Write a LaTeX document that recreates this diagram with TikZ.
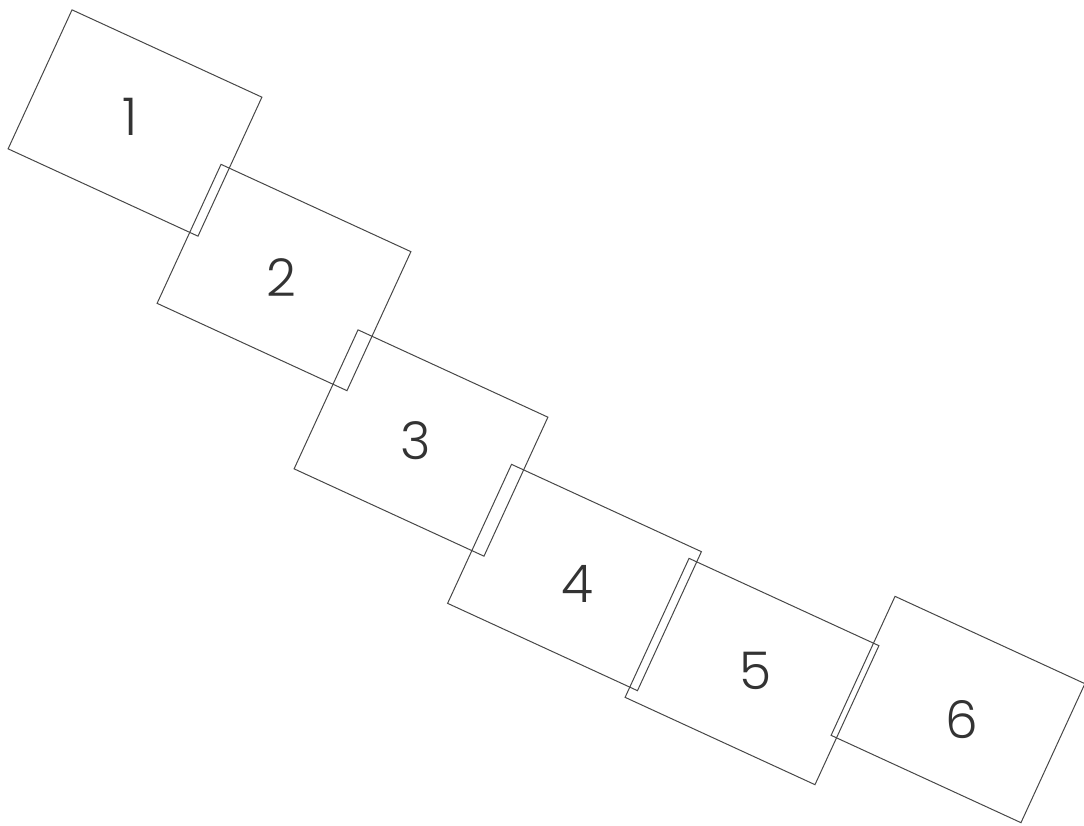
\documentclass[tikz,border=0pt]{standalone}
\usepackage{fontspec}
\newfontfamily\numfont{Poppins Light}
\usetikzlibrary{positioning}

\begin{document}
\begin{tikzpicture}[
  x=1pt, y=-1pt,
  slab/.style={rectangle, draw=black!72, line width=1pt, minimum width=209pt, minimum height=153pt, inner sep=0pt, outer sep=0pt, rotate=-24.7},
  num/.style={text=black!80, font=\numfont\fontsize{52}{52}\selectfont, inner sep=0pt}
]
\useasboundingbox (0,0) rectangle (1084,825);

% the six slabs, each overlapping the next one a little
\node[slab] (s1) at (135,123) {};
\node[slab] (s2) at (284,277.5) {};
\node[slab] (s3) at (421,443) {};
\node[slab] (s4) at (574.5,577.5) {};
\node[slab] (s5) at (752,671.5) {};
\node[slab] (s6) at (958,709.5) {};

% numbers
\node[num] (n1) at (130,117) {1};
\node[num] (n2) at (281,278) {2};
\node[num] (n3) at (416,441) {3};
\node[num] (n4) at (577,584) {4};
\node[num] (n5) at (756,671) {5};
\node[num] (n6) at (962,720) {6};

\end{tikzpicture}
\end{document}
